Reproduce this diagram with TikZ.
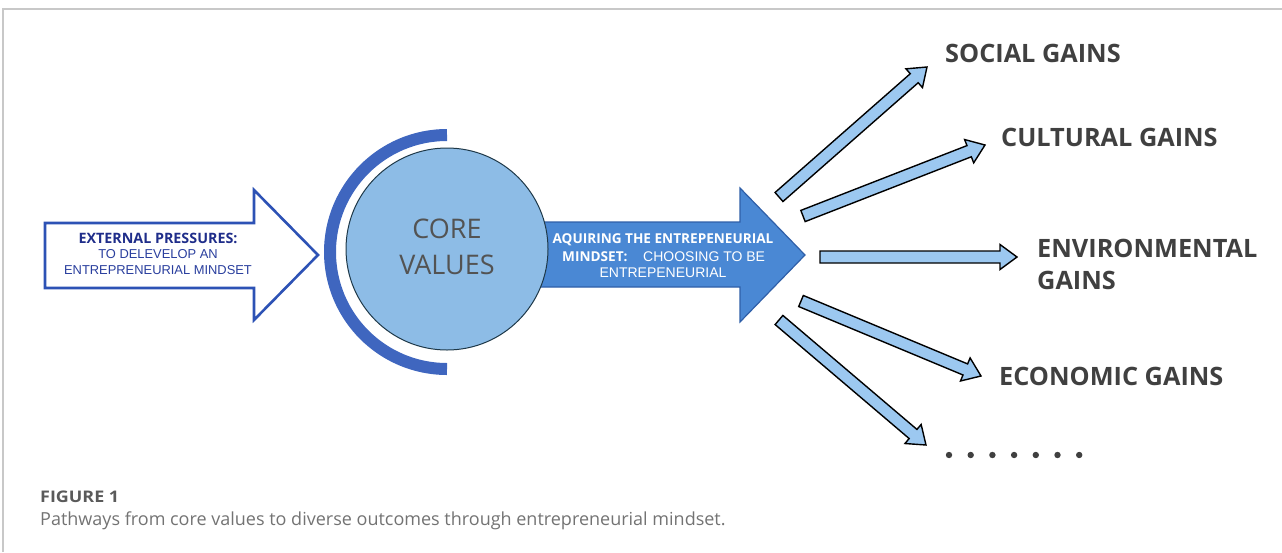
\documentclass[tikz,border=0pt]{standalone}
\usepackage{fontspec}
\setmainfont{Open Sans}
\newfontfamily\arialfont{Liberation Sans}
\usetikzlibrary{calc}

\definecolor{framegray}{HTML}{C8C8C8}
\definecolor{hollowblue}{HTML}{2D52B5}
\definecolor{navytext}{HTML}{1F2D8A}
\definecolor{bluetext}{HTML}{2A3F9E}
\definecolor{arcblue}{HTML}{3F66BF}
\definecolor{corefill}{HTML}{8DBCE6}
\definecolor{coreline}{HTML}{1E3848}
\definecolor{midfill}{HTML}{4A88D4}
\definecolor{midline}{HTML}{2F5FA8}
\definecolor{fanfill}{HTML}{9CC8F0}
\definecolor{gaintext}{HTML}{404040}
\definecolor{captext}{HTML}{5A5A5A}

\tikzset{
  hollowarrow/.style={draw=hollowblue, line width=2.6pt, fill=white, line join=miter},
  midarrow/.style={draw=midline, line width=1.2pt, fill=midfill, line join=miter},
  fanbody/.style={draw=black, line width=1.4pt, fill=fanfill, line join=miter},
  corearc/.style={draw=arcblue, line width=12pt},
  corecircle/.style={circle, draw=coreline, line width=1pt, fill=corefill, minimum size=202pt, inner sep=0pt},
  gainlabel/.style={anchor=west, inner sep=0pt, text=gaintext, font=\fontsize{25.3}{29}\selectfont\bfseries},
  lefthead/.style={inner sep=0pt, text=navytext, font=\fontsize{14.3}{16}\selectfont\bfseries},
  leftline/.style={inner sep=0pt, text=bluetext, font=\arialfont\fontsize{12.9}{15}\selectfont},
  midbold/.style={inner sep=0pt, text=white, font=\fontsize{13.6}{16}\selectfont\bfseries},
  midplain/.style={inner sep=0pt, text=white, font=\arialfont\fontsize{14}{16}\selectfont},
  corelabel/.style={inner sep=0pt, text=gaintext!90, font=\fontsize{27}{30}\selectfont},
  caphead/.style={anchor=west, inner sep=0pt, text=captext, font=\fontsize{16}{19}\selectfont\bfseries},
  captext/.style={anchor=west, inner sep=0pt, text=captext!85, font=\fontsize{18}{21}\selectfont},
}

% block arrow from #1 to #2 with shaft 12pt wide and head 25pt wide
\newcommand\fanarrow[2]{%
  \path[fanbody] let \p1=($(#2)-(#1)$), \n1={atan2(\y1,\x1)}, \n2={veclen(\x1,\y1)} in
    [shift={(#1)}, rotate=\n1]
    (0pt,6pt) -- ({\n2-17pt},6pt) -- ({\n2-17pt},12.5pt) -- ({\n2},0pt)
    -- ({\n2-17pt},-12.5pt) -- ({\n2-17pt},-6pt) -- (0pt,-6pt) -- cycle;
}

\begin{document}
\begin{tikzpicture}[x=1pt, y=-1pt]
\useasboundingbox (0,0) rectangle (1282,552);

% page frame
\coordinate (fl) at (3,552);
\coordinate (ftl) at (3,9);
\coordinate (ftr) at (1282,9);
\draw[framegray, line width=1.5pt] (fl) -- (ftl) -- (ftr);

% external pressures arrow
\draw[hollowarrow] (45,223) -- (254,223) -- (254,190) -- (318,255)
  -- (254,320) -- (254,288) -- (45,288) -- cycle;
\node[lefthead] (ext1) at (158,238) {EXTERNAL PRESSURES:};
\node[leftline] (ext2) at (158,254) {TO DELEVELOP AN};
\node[leftline] (ext3) at (158,270) {ENTREPRENEURIAL MINDSET};

% mindset arrow, starting behind the circle
\draw[midarrow] (520,222) -- (740,222) -- (740,188) -- (805,255)
  -- (740,322) -- (740,287) -- (520,287) -- cycle;
\coordinate (midtip) at (805,255);

% core values
\draw[corearc] (447,135) arc[start angle=270, end angle=90, radius=117];
\node[corecircle] (core) at (447,249) {};
\node[corelabel] (core1) at (447,229) {CORE};
\node[corelabel] (core2) at (447,265) {VALUES};

\node[midbold] (mid1) at (663,240) {AQUIRING THE ENTREPENEURIAL};
\node[midbold, anchor=west] (mid2a) at (562,257) {MINDSET:};
\node[midplain, anchor=west] (mid2b) at (643,257) {CHOOSING TO BE};
\node[midplain] (mid3) at (663,273) {ENTREPENEURIAL};

% outcome labels
\node[gainlabel] (social) at (945,53) {SOCIAL GAINS};
\node[gainlabel] (cultural) at (1001,137) {CULTURAL GAINS};
\node[gainlabel] (env1) at (1037,248) {ENVIRONMENTAL};
\node[gainlabel] (env2) at (1037,280) {GAINS};
\node[gainlabel] (economic) at (999,376) {ECONOMIC GAINS};
\foreach \i in {0,...,6} {
  \fill[gaintext] ({949+21.7*\i},455) circle[radius=3.2];
}
\coordinate (more) at (949,455);

% arrows fanning out from the mindset arrow
\coordinate (t1) at (779,197);  \coordinate (h1) at (927,67);
\coordinate (t2) at (803,216);  \coordinate (h2) at (985,145);
\coordinate (t3) at (820,257);  \coordinate (h3) at (1017,257);
\coordinate (t4) at (801,301);  \coordinate (h4) at (981,376);
\coordinate (t5) at (779,320);  \coordinate (h5) at (926,445);
\fanarrow{t1}{h1}
\fanarrow{t2}{h2}
\fanarrow{t3}{h3}
\fanarrow{t4}{h4}
\fanarrow{t5}{h5}

% caption
\node[caphead] (fig) at (40,497) {\scalebox{1.12}[1]{FIGURE 1}};
\node[captext] (cap) at (40,521) {Pathways from core values to diverse outcomes through entrepreneurial mindset.};
\end{tikzpicture}
\end{document}
